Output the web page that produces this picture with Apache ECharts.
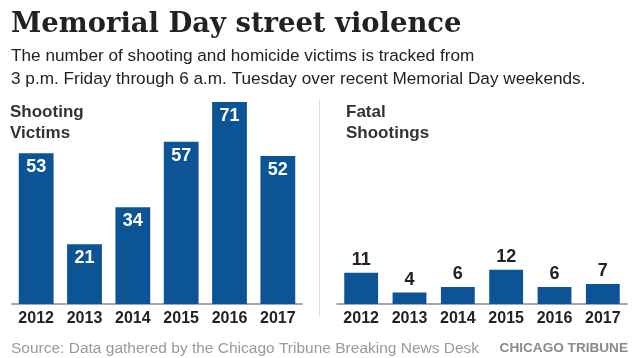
<!DOCTYPE html>
<html>
<head>
<meta charset="utf-8">
<script src="https://cdn.jsdelivr.net/npm/echarts@6/dist/echarts.min.js"></script>
<style>
html,body{margin:0;padding:0;background:#fff;}
#chart{width:640px;height:358px;}
</style>
</head>
<body>
<div id="chart"></div>
<script>
var years = ['2012', '2013', '2014', '2015', '2016', '2017'];
var shootingVictims = [53, 21, 34, 57, 71, 52];
var fatalShootings = [11, 4, 6, 12, 6, 7];

var BLUE = '#0d5496';
var SANS = 'Liberation Sans, Arial, sans-serif';

var chart = echarts.init(document.getElementById('chart'));

function xAx(gi) {
  return {
    type: 'category', gridIndex: gi, data: years,
    axisLine: {show: true, lineStyle: {color: '#8a8a8a', width: 1.5}},
    axisTick: {show: false},
    axisLabel: {color: '#222', fontFamily: SANS, fontWeight: 'bold', fontSize: 16, margin: 7}
  };
}
function yAx(gi) {
  return {type: 'value', gridIndex: gi, min: 0, max: 71, show: false, splitLine: {show: false}};
}

chart.setOption({
  backgroundColor: '#fff',
  animation: false,
  title: [
    {text: 'Memorial Day street violence', left: 6, top: 3,
     textStyle: {fontFamily: 'DejaVu Serif, serif', fontWeight: 'bold', fontSize: 27.4, color: '#222', lineHeight: 34}},
    {text: 'The number of shooting and homicide victims is tracked from\n3 p.m. Friday through 6 a.m. Tuesday over recent Memorial Day weekends.', left: 6, top: 40,
     textStyle: {fontFamily: SANS, fontWeight: 'normal', fontSize: 17.2, color: '#222', lineHeight: 23}},
    {text: 'Shooting\nVictims', left: 5, top: 97,
     textStyle: {fontFamily: SANS, fontWeight: 'bold', fontSize: 17, color: '#333', lineHeight: 21}},
    {text: 'Fatal\nShootings', left: 341, top: 97,
     textStyle: {fontFamily: SANS, fontWeight: 'bold', fontSize: 17, color: '#333', lineHeight: 21}},
    {text: 'Source: Data gathered by the Chicago Tribune Breaking News Desk', left: 6, top: 335,
     textStyle: {fontFamily: SANS, fontWeight: 'normal', fontSize: 15.5, color: '#9a9a9a', lineHeight: 18}},
    {text: 'CHICAGO TRIBUNE', right: 7, top: 335,
     textStyle: {fontFamily: SANS, fontWeight: 'bold', fontSize: 13.6, color: '#8a8a8a', lineHeight: 16}}
  ],
  graphic: [
    {type: 'line', shape: {x1: 319.5, y1: 100, x2: 319.5, y2: 316}, style: {stroke: '#dddddd', lineWidth: 1}}
  ],
  grid: [
    {left: 12, width: 290, top: 102, bottom: 54},
    {left: 337, width: 290, top: 102, bottom: 54}
  ],
  xAxis: [xAx(0), xAx(1)],
  yAxis: [yAx(0), yAx(1)],
  series: [
    {type: 'bar', xAxisIndex: 0, yAxisIndex: 0, data: shootingVictims, barCategoryGap: '28%',
     itemStyle: {color: BLUE},
     label: {show: true, position: 'insideTop', distance: 5, color: '#fff', fontFamily: SANS, fontWeight: 'bold', fontSize: 18}},
    {type: 'bar', xAxisIndex: 1, yAxisIndex: 1, data: fatalShootings, barCategoryGap: '30%',
     itemStyle: {color: BLUE},
     label: {show: true, position: 'top', distance: 4, color: '#222', fontFamily: SANS, fontWeight: 'bold', fontSize: 18}}
  ]
});
</script>
</body>
</html>
